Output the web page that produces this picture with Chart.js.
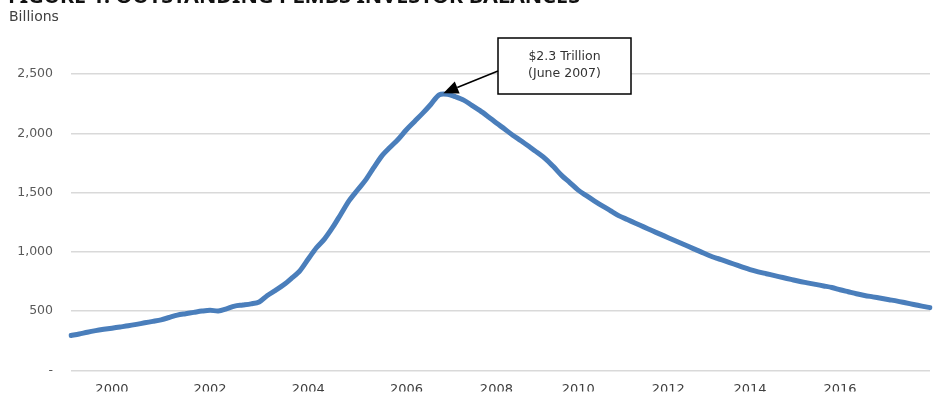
<!DOCTYPE html>
<html>
<head>
<meta charset="utf-8">
<script src="https://cdn.jsdelivr.net/npm/chart.js@4"></script>
<style>
  html, body { margin: 0; padding: 0; background: #ffffff; }
  #wrap { position: relative; width: 939px; height: 396px; }
</style>
</head>
<body>
<div id="wrap"><canvas id="chart" width="939" height="396"></canvas></div>
<script>
// Outstanding private-label MBS investor balances, billions of dollars
const balances = [
  295, 308, 323, 336, 347, 357, 367, 377, 389, 402,
  414, 427, 447, 467, 479, 490, 501, 508, 502, 520,
  543, 552, 562, 578, 633, 676, 722, 780, 843, 940,
  1035, 1110, 1208, 1320, 1432, 1520, 1605, 1710, 1810, 1882,
  1950, 2030, 2100, 2170, 2245, 2325, 2330, 2308, 2280, 2236,
  2191, 2140, 2087, 2036, 1984, 1937, 1888, 1838, 1785, 1717,
  1643, 1583, 1521, 1474, 1429, 1386, 1345, 1304, 1273, 1242,
  1211, 1180, 1150, 1120, 1090, 1060, 1030, 1000, 970, 945,
  922, 898, 874, 851, 832, 816, 800, 784, 768, 752,
  739, 726, 713, 700, 681, 664, 647, 633, 621, 609,
  597, 585, 571, 557, 543, 530
];

// Year labels shown along the horizontal axis and the observation each sits under
const yearLabels = ['2000', '2002', '2004', '2006', '2008', '2010', '2012', '2014', '2016'];
const yearLabelIndex = [5, 17, 29, 41, 52, 62, 73, 83, 94];

// Value axis ticks
const valueTicks = [0, 500, 1000, 1500, 2000, 2500];

const categories = balances.map((_, i) => {
  const k = yearLabelIndex.indexOf(i);
  return k >= 0 ? yearLabels[k] : '';
});

const TEXT_FONT = '"DejaVu Sans", "Noto Sans", sans-serif';
const HEAD_FONT = '"Noto Sans", "Open Sans", sans-serif';

// Clipped heading, subtitle and the peak callout
const decorations = {
  id: 'decorations',
  afterDraw(chart) {
    const ctx = chart.ctx;
    ctx.save();

    // heading running off the top edge
    ctx.fillStyle = '#111111';
    ctx.font = 'bold 20px ' + HEAD_FONT;
    ctx.textBaseline = 'alphabetic';
    ctx.textAlign = 'left';
    const heading = 'FIGURE 1: OUTSTANDING PLMBS INVESTOR BALANCES';
    const w = ctx.measureText(heading).width;
    ctx.translate(8, 3);
    ctx.scale(572 / w, 1);
    ctx.fillText(heading, 0, 0);
    ctx.setTransform(1, 0, 0, 1, 0, 0);

    // units
    ctx.fillStyle = '#404040';
    ctx.font = '14px ' + TEXT_FONT;
    ctx.textBaseline = 'middle';
    ctx.fillText('Billions', 9, 17.5);

    // callout box
    const bx = 498, by = 38, bw = 133, bh = 56;
    ctx.fillStyle = '#ffffff';
    ctx.fillRect(bx, by, bw, bh);
    ctx.strokeStyle = '#000000';
    ctx.lineWidth = 1.5;
    ctx.strokeRect(bx, by, bw, bh);
    ctx.fillStyle = '#333333';
    ctx.font = '12.5px ' + TEXT_FONT;
    ctx.textAlign = 'center';
    ctx.fillText('$2.3 Trillion', bx + bw / 2, by + 19);
    ctx.fillText('(June 2007)', bx + bw / 2, by + 36);

    // arrow pointing at the peak observation
    const xs = chart.scales.x, ys = chart.scales.y;
    let peak = 0;
    balances.forEach((v, i) => { if (v > balances[peak]) peak = i; });
    const tx = xs.getPixelForValue(peak) - 4;
    const ty = ys.getPixelForValue(balances[peak]) - 1;
    const sx = bx, sy = by + 33;
    const ang = Math.atan2(ty - sy, tx - sx);
    const head = 15, half = 6.5;
    const hx = tx - head * Math.cos(ang), hy = ty - head * Math.sin(ang);
    ctx.strokeStyle = '#000000';
    ctx.lineWidth = 1.5;
    ctx.beginPath();
    ctx.moveTo(sx, sy);
    ctx.lineTo(hx, hy);
    ctx.stroke();
    ctx.fillStyle = '#000000';
    ctx.beginPath();
    ctx.moveTo(tx, ty);
    ctx.lineTo(hx + half * Math.sin(ang), hy - half * Math.cos(ang));
    ctx.lineTo(hx - half * Math.sin(ang), hy + half * Math.cos(ang));
    ctx.closePath();
    ctx.fill();

    ctx.restore();
  }
};

new Chart(document.getElementById('chart'), {
  type: 'line',
  data: {
    labels: categories,
    datasets: [{
      data: balances,
      borderColor: '#4a7ebb',
      borderWidth: 5,
      borderCapStyle: 'round',
      borderJoinStyle: 'round',
      pointRadius: 0,
      tension: 0.3,
      fill: false
    }]
  },
  options: {
    responsive: false,
    animation: false,
    layout: { padding: { top: 74, right: 9, left: 0, bottom: 0 } },
    plugins: {
      legend: { display: false },
      tooltip: { enabled: false }
    },
    scales: {
      x: {
        type: 'category',
        offset: false,
        grid: { display: false, drawTicks: false },
        border: { display: false },
        ticks: {
          autoSkip: false,
          maxRotation: 0,
          minRotation: 0,
          padding: 11,
          color: '#404040',
          font: { family: TEXT_FONT, size: 13 },
          callback: (v, i) => (categories[i] ? categories[i] : null)
        },
        afterFit: (s) => { s.height = 21; }
      },
      y: {
        min: 0,
        max: 2500,
        afterBuildTicks: (s) => { s.ticks = valueTicks.map(v => ({ value: v })); },
        grid: { color: '#d9d9d9', lineWidth: 1.5, drawTicks: false },
        border: { display: false },
        ticks: {
          padding: 18,
          color: '#595959',
          font: { family: TEXT_FONT, size: 12.5 },
          callback: (v) => (v === 0 ? '-' : v.toLocaleString('en-US'))
        },
        afterFit: (s) => { s.width = 71; }
      }
    }
  },
  plugins: [decorations]
});
</script>
</body>
</html>
